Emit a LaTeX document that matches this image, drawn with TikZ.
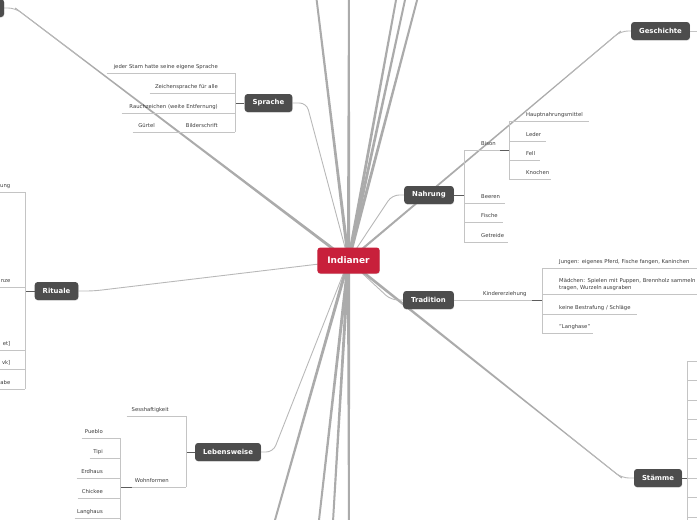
\documentclass[tikz,border=0pt]{standalone}
\usepackage{fontspec}
\setmainfont{DejaVu Sans}
\usetikzlibrary{positioning,calc,backgrounds,shadows}
\definecolor{crimson}{HTML}{C8203B}
\definecolor{charcoal}{HTML}{4D4D4D}
\definecolor{linkgray}{HTML}{ABABAB}
\definecolor{rulegray}{HTML}{C4C4C4}
\definecolor{inkgray}{HTML}{3A3A3A}
\definecolor{darklink}{HTML}{5C5C5C}
\newcommand\branchwedge[4]{%
  \fill[linkgray] ($(#1)!#3!90:(#2)$) -- ($(#2)!#4!-90:(#1)$)
    -- ($(#2)!#4!90:(#1)$) -- ($(#1)!#3!-90:(#2)$) -- cycle;}
\tikzset{
  root/.style={rectangle, rounded corners=3pt, fill=crimson, text=white,
               font=\fontsize{9}{10}\selectfont\bfseries, inner xsep=10pt, minimum height=26pt,
               drop shadow={shadow xshift=0.3pt, shadow yshift=-0.7pt, opacity=0.25}},
  topic/.style={rectangle, rounded corners=3pt, fill=charcoal, text=white,
                font=\fontsize{6.9}{8}\selectfont\bfseries, inner xsep=8pt, minimum height=18pt,
                drop shadow={shadow xshift=0.3pt, shadow yshift=-0.7pt, opacity=0.25}},
  pad/.store in=\leafpad, pad=17pt,
  leaf/.style={inner sep=0pt, minimum width=#1, text width=#1, text depth=4.5pt,
               font=\fontsize{5.3}{6.4}\selectfont, text=inkgray},
  leafr/.style={leaf=#1, anchor=south west, align=left, execute at begin node={\hspace*{\leafpad}}},
  leafl/.style={leaf=#1, anchor=south east, align=right, execute at end node={\hspace*{\leafpad}}},
  link/.style={draw=linkgray!85, line width=0.9pt, rounded corners=7pt},
  uline/.style={draw=rulegray, line width=0.7pt},
  dlink/.style={draw=darklink, line width=1pt}
}
\begin{document}
\begin{tikzpicture}[x=1pt, y=-1pt]
  \useasboundingbox (0,0) rectangle (697,520);
  \node[root] (root) at (348.5,260.5) {Indianer};
  \node[topic, minimum width=46pt] (tl) at (-19,8) {};
  \node[topic] (ges) at (660.5,31) {Geschichte};
  \node[topic] (spr) at (268.5,103) {Sprache};
  \node[topic] (nah) at (429,195) {Nahrung};
  \node[topic] (tra) at (428.5,300) {Tradition};
  \node[topic] (rit) at (56.5,291) {Rituale};
  \node[topic] (leb) at (228,452) {Lebensweise};
  \node[topic] (sta) at (658,478) {Stämme};

  % Sprache
  \node[leafl=128pt] (stam) at (235,73) {jeder Stam hatte seine eigene Sprache};
  \node[leafl=85pt] (zeichen) at (235,93) {Zeichensprache für alle};
  \node[leafl=113pt] (rauch) at (235,113) {Rauchzeichen (weite Entfernung)};
  \node[leafl=52pt] (bilder) at (235,132) {Bilderschrift};
  \node[leafl=39pt] (guertel) at (172,132) {Gürtel};
  \draw[dlink] (spr.west) -- (spr.west -| stam.south east);
  \draw[uline] (stam.south east) -- (bilder.south east);
  \draw[uline] (guertel.south east) -- (bilder.south west);

  % Nahrung
  \node[leafr=36pt] (bison) at (464,150) {Bison};
  \node[leafr=41pt] (beeren) at (464,203) {Beeren};
  \node[leafr=39pt] (fische) at (464,222) {Fische};
  \node[leafr=44pt] (getreide) at (464,242) {Getreide};
  \node[leafr=80pt] (hnm) at (509,121) {Hauptnahrungsmittel};
  \node[leafr=37pt] (leder) at (509,141) {Leder};
  \node[leafr=31pt] (fell) at (509,160) {Fell};
  \node[leafr=42pt] (knochen) at (509,179) {Knochen};
  \draw[dlink] (nah.east) -- (nah.east -| bison.south west);
  \draw[uline] (bison.south west) -- (getreide.south west);
  \draw[dlink] (bison.south east) -- (bison.south east -| hnm.south west);
  \draw[uline] (hnm.south west) -- (knochen.south west);

  % Tradition
  \node[leafr=66pt] (kind) at (466,300) {Kindererziehung};
  \node[leafr=200pt] (jungen) at (542,268) {Jungen: eigenes Pferd, Fische fangen, Kaninchen};
  \node[leafr=200pt, text depth=10.9pt] (maedchen) at (542,294) {Mädchen: Spielen mit Puppen, Brennholz sammeln\\\hspace*{\leafpad}tragen, Wurzeln ausgraben};
  \node[leafr=95pt] (strafe) at (542,314) {keine Bestrafung / Schläge};
  \node[leafr=51pt] (langhase) at (542,333) {"Langhase"};
  \draw[uline] (tra.east) -- (kind.south west);
  \draw[dlink] (kind.south east) -- (kind.south east -| jungen.south west);
  \draw[uline] (jungen.south west) -- (langhase.south west);

  % Rituale
  \node[leafl=40pt, pad=14.5pt] (rit1) at (25,192) {ung};
  \node[leafl=40pt, pad=14.5pt] (rit2) at (25,287) {nze};
  \node[leafl=40pt, pad=14.5pt] (rit3) at (25,350) {et]};
  \node[leafl=40pt, pad=14.5pt] (rit4) at (25,369) {vk]};
  \node[leafl=40pt, pad=14.5pt] (rit5) at (25,389) {abe};
  \draw[dlink] (rit.west) -- (rit.west -| rit1.south east);
  \draw[uline] (rit1.south east) -- (rit5.south east);

  % Lebensweise
  \node[leafl=59pt] (sess) at (186,416) {Sesshaftigkeit};
  \node[leafl=54pt] (wohn) at (186,487) {Wohnformen};
  \node[leafl=38pt] (pueblo) at (120,438) {Pueblo};
  \node[leafl=30pt] (tipi) at (120,458) {Tipi};
  \node[leafl=43pt] (erdhaus) at (120,478) {Erdhaus};
  \node[leafl=42pt] (chickee) at (120,498) {Chickee};
  \node[leafl=45pt] (langhaus) at (120,518) {Langhaus};
  \draw[dlink] (leb.west) -- (leb.west -| sess.south east);
  \draw[uline] (sess.south east) -- (wohn.south east);
  \draw[dlink] (wohn.south west) -- (wohn.south west -| pueblo.south east);
  \draw[uline] (pueblo.south east) -- ([yshift=-12pt]langhaus.south east);

  \foreach \n in {stam,zeichen,rauch,bilder,guertel,bison,beeren,fische,getreide,hnm,leder,fell,knochen,
                  kind,jungen,maedchen,strafe,langhase,rit1,rit2,rit3,rit4,rit5,
                  sess,wohn,pueblo,tipi,erdhaus,chickee,langhaus}
    \draw[uline] (\n.south west) -- (\n.south east);

  % Stämme and Geschichte
  \coordinate (sbr) at (687,361);
  \draw[uline] (sbr) -- ++(0,170);
  \foreach \d in {0,19,39,58,78,97,117,136,156}
    \draw[uline] ([yshift=-\d pt]sbr) -- ++(15,0);
  \draw[dlink] (sta.east) -- (sta.east -| sbr);
  \draw[uline] (ges.east) -- ++(15,0);

  \begin{scope}[on background layer]
    \foreach \x [count=\i] in {313,349,401.5,411.5,425} {
      \coordinate (up\i) at (\x,-30);
      \branchwedge{root.center}{up\i}{1.6pt}{0.9pt}
    }
    \foreach \x [count=\i] in {266.5,315.6,331.3,349} {
      \coordinate (dn\i) at (\x,550);
      \branchwedge{root.center}{dn\i}{1.6pt}{0.9pt}
    }
    \coordinate (gesb) at ([xshift=-10pt]ges.west);
    \coordinate (stab) at ([xshift=-12pt]sta.west);
    \coordinate (tlb) at ([xshift=11pt]tl.east);
    \branchwedge{root.center}{gesb}{1.1pt}{0.45pt}
    \branchwedge{root.center}{stab}{1.4pt}{0.45pt}
    \branchwedge{root.center}{tlb}{1.5pt}{0.45pt}
    \draw[link] ($(root.center)!0.8!(gesb)$) -- (gesb) -- (ges.west);
    \draw[link] ($(root.center)!0.8!(stab)$) -- (stab) -- (sta.west);
    \draw[link] ($(root.center)!0.8!(tlb)$) -- (tlb) -- (tl.east);
    \draw[link] (root.center) -- ([xshift=14pt]spr.east) -- (spr.east);
    \draw[link] (root.center) -- ([xshift=-12pt]nah.west) -- (nah.west);
    \draw[link] (root.center) -- ([xshift=-12pt]tra.west) -- (tra.west);
    \draw[link] (root.center) -- ([xshift=15pt]rit.east) -- (rit.east);
    \draw[link] (root.center) -- ([xshift=12pt]leb.east) -- (leb.east);
  \end{scope}
\end{tikzpicture}
\end{document}
